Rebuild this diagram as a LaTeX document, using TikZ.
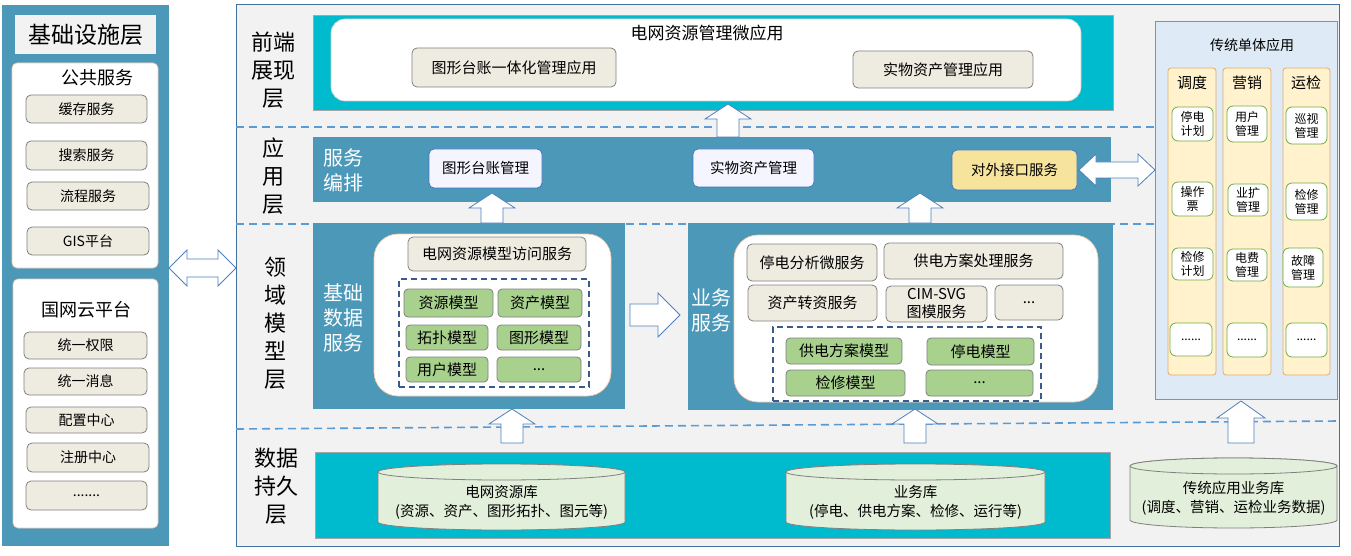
\documentclass[tikz,border=0pt]{standalone}
\usepackage{fontspec}
\setmainfont{Noto Sans CJK SC}
\usetikzlibrary{calc}
\definecolor{steel}{RGB}{75,152,184}
\definecolor{myteal}{RGB}{0,186,206}
\definecolor{cont}{RGB}{242,242,242}
\definecolor{contb}{RGB}{65,113,156}
\definecolor{beige}{RGB}{238,236,225}
\definecolor{gbox}{RGB}{169,209,142}
\definecolor{sepc}{RGB}{91,155,213}
\definecolor{dnavy}{RGB}{59,90,140}
\definecolor{peach}{RGB}{244,200,170}
\definecolor{paleblue}{RGB}{222,235,247}
\definecolor{pgreen}{RGB}{112,173,71}
\definecolor{pyellow}{RGB}{255,242,204}
\definecolor{porange}{RGB}{226,170,110}
\definecolor{ifyellow}{RGB}{247,228,156}
\definecolor{ifblue}{RGB}{68,114,196}
\definecolor{cylfill}{RGB}{226,239,218}
\definecolor{arrb}{RGB}{79,129,189}
\definecolor{gbord}{RGB}{128,128,128}
\newcommand\fs[2]{\fontsize{#1}{#2}\selectfont}
\newcommand\mkbox[7]{\node[#2, minimum width={(#5-#3)*1pt}, minimum height={(#6-#4)*1pt}] (#1) at ({(#3+#5)/2},{(#4+#6)/2}) {#7};}
\newcommand\UpBlk[6]{\draw[blockarr] ({#1-#6},#3) -- ({#1-#6},{#2+#4}) -- ({#1-#5},{#2+#4}) -- (#1,#2) -- ({#1+#5},{#2+#4}) -- ({#1+#6},{#2+#4}) -- ({#1+#6},#3) -- cycle;}
\newcommand\RtBlk[6]{\draw[blockarr] (#2,{#1-#6}) -- ({#3-#4},{#1-#6}) -- ({#3-#4},{#1-#5}) -- (#3,#1) -- ({#3-#4},{#1+#5}) -- ({#3-#4},{#1+#6}) -- (#2,{#1+#6}) -- cycle;}
\newcommand\DblBlk[6]{\draw[blockarr] (#2,#1) -- ({#2+#4},{#1-#5}) -- ({#2+#4},{#1-#6}) -- ({#3-#4},{#1-#6}) -- ({#3-#4},{#1-#5}) -- (#3,#1) -- ({#3-#4},{#1+#5}) -- ({#3-#4},{#1+#6}) -- ({#2+#4},{#1+#6}) -- ({#2+#4},{#1+#5}) -- cycle;}
\newcommand\mkcyl[6]{%
 \pgfmathsetmacro\cylrx{(#4-#2)/2}%
 \pgfmathsetmacro\cylcx{(#2+#4)/2}%
 \draw[cyl] (#2,{#3+8}) -- (#2,{#5-8}) arc[start angle=180,end angle=360,x radius=\cylrx pt,y radius=8pt] -- (#4,{#3+8}) arc[start angle=0,end angle=180,x radius=\cylrx pt,y radius=8pt] -- cycle;
 \draw[cyl] (\cylcx,{#3+8}) ellipse[x radius=\cylrx pt,y radius=8pt];
 \node[base,font=\fs{14.5}{19}] (#1) at (\cylcx,{(#3+#5)/2+5}) {#6};}
\tikzset{
 base/.style={inner sep=0pt, outer sep=0pt, align=center, text=black},
 steelbox/.style={base, fill=steel},
 tealbox/.style={base, fill=myteal, draw=gray!70, line width=0.6pt},
 container/.style={base, fill=cont, draw=contb, line width=1pt},
 wpanel/.style={base, fill=white, draw=peach, line width=0.7pt, rounded corners=#1},
 gbeige/.style={base, fill=beige, draw=gbord, line width=0.8pt, rounded corners=5pt, font=\fs{15}{18}},
 lbeige/.style={gbeige, font=\fs{14}{17}},
 ggreen/.style={base, fill=gbox, draw=gbord, line width=0.8pt, rounded corners=4pt, font=\fs{15}{18}},
 appbox/.style={base, fill=white!96!blue, draw=ifblue, line width=0.8pt, rounded corners=5pt, font=\fs{14.5}{17}},
 ifbox/.style={appbox, fill=ifyellow},
 dashbox/.style={base, draw=dnavy, line width=1.4pt, dash pattern=on 6pt off 4pt},
 sepline/.style={draw=sepc, line width=1.6pt, dash pattern=on 8pt off 5pt},
 blockarr/.style={fill=white, draw=arrb, line width=0.8pt},
 cyl/.style={fill=cylfill, draw=gbord, line width=0.8pt},
 colbox/.style={base, fill=pyellow, draw=porange, line width=0.8pt, rounded corners=3pt},
 titem/.style={base, fill=white, draw=pgreen, line width=0.8pt, rounded corners=6pt, font=\fs{12}{14}},
 layerlbl/.style={base, font=\fs{22}{28}},
 wlbl/.style={base, text=white, font=\fs{20}{25}},
}
\begin{document}
\begin{tikzpicture}[x=1pt,y=-1pt]
\useasboundingbox (0,0) rectangle (1351,556);
\fill[white] (0,0) rectangle (1351,556);
% ---------- left infrastructure panel
\mkbox{leftpanel}{steelbox}{2}{5}{169}{546}{}
\mkbox{infra}{base,fill=cont,font=\fs{23}{27}}{15}{15}{156}{54}{基础设施层}
\mkbox{pubpanel}{wpanel=5pt}{12}{63}{158}{268}{}
\node[base,font=\fs{18}{22}] (pubtitle) at (97,78) {公共服务};
\mkbox{cache}{lbeige}{26}{95}{147}{123}{缓存服务}
\mkbox{search}{lbeige}{26}{141}{147}{170}{搜索服务}
\mkbox{flow}{lbeige}{27}{182}{149}{210}{流程服务}
\mkbox{gis}{lbeige}{27}{227}{149}{255}{GIS平台}
\mkbox{cloudpanel}{wpanel=5pt}{13}{279}{158}{528}{}
\node[base,font=\fs{18}{22}] (cloudtitle) at (86,310) {国网云平台};
\mkbox{perm}{lbeige}{24}{332}{147}{359}{统一权限}
\mkbox{msg}{lbeige}{24}{368}{147}{395}{统一消息}
\mkbox{conf}{lbeige}{26}{407}{147}{433}{配置中心}
\mkbox{reg}{lbeige}{27}{443}{149}{472}{注册中心}
\mkbox{more1}{lbeige}{26}{481}{147}{510}{.......}
% ---------- main container
\mkbox{main}{container}{236}{5}{1339}{546}{}
\draw[sepline] (236,127) -- (1155,127);
\draw[sepline] (236,224) -- (1155,224);
\draw[sepline] (236,429) -- (1339,421);
% layer labels
\node[layerlbl] (lblfront) at (273,70) {前端\\展现\\层};
\node[layerlbl] (lblapp) at (273,176) {应\\用\\层};
\node[layerlbl] (lbldomain) at (275,323) {领\\域\\模\\型\\层};
\node[layerlbl] (lbldata) at (276,486) {数据\\持久\\层};
% ---------- front end
\mkbox{front}{tealbox}{313}{15}{1113}{110}{}
\mkbox{frontin}{base,fill=white,draw=gray!40,line width=0.6pt,rounded corners=14pt}{331}{19}{1081}{101}{}
\node[base,font=\fs{17}{20}] (fronttitle) at (707,33) {电网资源管理微应用};
\mkbox{app1}{gbeige}{412}{48}{616}{87}{图形台账一体化管理应用}
\mkbox{app2}{gbeige}{853}{51}{1033}{88}{实物资产管理应用}
% ---------- application layer
\mkbox{applayer}{steelbox}{313}{137}{1111}{202}{}
\node[wlbl] (orch) at (343,170) {服务\\编排};
\mkbox{svc1}{appbox}{429}{149}{542}{188}{图形台账管理}
\mkbox{svc2}{appbox}{693}{149}{814}{187}{实物资产管理}
\mkbox{svc3}{ifbox}{952}{150}{1077}{190}{对外接口服务}
% ---------- domain: base data service
\mkbox{basesvc}{steelbox}{313}{223}{625}{409}{}
\node[wlbl] (baselbl) at (343,318) {基础\\数据\\服务};
\mkbox{basein}{wpanel=24pt}{374}{234}{611}{396}{}
\mkbox{access}{gbeige}{408}{237}{586}{271}{电网资源模型访问服务}
\mkbox{basedash}{dashbox}{399}{279}{589}{387}{}
\mkbox{m1}{ggreen}{404}{289}{493}{317}{资源模型}
\mkbox{m2}{ggreen}{498}{289}{582}{317}{资产模型}
\mkbox{m3}{ggreen}{406}{325}{488}{350}{拓扑模型}
\mkbox{m4}{ggreen}{497}{325}{581}{350}{图形模型}
\mkbox{m5}{ggreen}{406}{357}{488}{382}{用户模型}
\mkbox{m6}{ggreen}{497}{357}{581}{382}{...}
% ---------- domain: business service
\mkbox{bizsvc}{steelbox}{688}{223}{1113}{410}{}
\mkbox{bizin}{wpanel=24pt}{734}{235}{1098}{402}{}
\node[wlbl] (bizlbl) at (711,310) {业务\\服务};
\mkbox{b1s}{gbeige}{747}{244}{877}{281}{停电分析微服务}
\mkbox{b2s}{gbeige}{884}{243}{1063}{279}{供电方案处理服务}
\mkbox{b3s}{gbeige}{748}{285}{877}{321}{资产转资服务}
\mkbox{b4s}{gbeige}{886}{286}{987}{322}{CIM-SVG\\图模服务}
\mkbox{b5s}{gbeige}{995}{285}{1063}{320}{...}
\mkbox{bizdash}{dashbox}{773}{327}{1041}{401}{}
\mkbox{n1}{ggreen}{786}{338}{902}{364}{供电方案模型}
\mkbox{n2}{ggreen}{927}{338}{1034}{365}{停电模型}
\mkbox{n3}{ggreen}{786}{370}{905}{396}{检修模型}
\mkbox{n4}{ggreen}{926}{370}{1033}{396}{...}
% ---------- data layer
\mkbox{datalayer}{tealbox}{315}{452}{1110}{538}{}
\mkcyl{db1}{378}{464}{625}{530}{电网资源库\\(资源、资产、图形拓扑、图元等)}
\mkcyl{db2}{786}{464}{1045}{530}{业务库\\(停电、供电方案、检修、运行等)}
\mkcyl{db3}{1130}{458}{1337}{528}{传统应用业务库\\(调度、营销、运检业务数据)}
% ---------- traditional monolithic apps
\mkbox{trad}{base,fill=paleblue,draw=pgreen,line width=0.8pt}{1155}{21}{1337}{399}{}
\node[base,font=\fs{14}{17}] (tradtitle) at (1252,45) {传统单体应用};
\mkbox{colA}{colbox}{1168}{68}{1216}{375}{}
\mkbox{colB}{colbox}{1223}{68}{1271}{375}{}
\mkbox{colC}{colbox}{1283}{68}{1330}{375}{}
\node[base,font=\fs{15}{18}] (colAt) at (1192,83) {调度};
\node[base,font=\fs{15}{18}] (colBt) at (1247,83) {营销};
\node[base,font=\fs{15}{18}] (colCt) at (1306,83) {运检};
\mkbox{a1}{titem}{1172}{107}{1213}{141}{停电\\计划}
\mkbox{a2}{titem}{1172}{182}{1213}{216}{操作\\票}
\mkbox{a3}{titem}{1172}{248}{1213}{280}{检修\\计划}
\mkbox{a4}{titem}{1170}{323}{1212}{356}{......}
\mkbox{b1}{titem}{1227}{106}{1267}{142}{用户\\管理}
\mkbox{b2}{titem}{1228}{184}{1268}{216}{业扩\\管理}
\mkbox{b3}{titem}{1227}{249}{1267}{281}{电费\\管理}
\mkbox{b4}{titem}{1227}{323}{1267}{357}{......}
\mkbox{c1}{titem}{1286}{107}{1327}{144}{巡视\\管理}
\mkbox{c2}{titem}{1286}{183}{1327}{220}{检修\\管理}
\mkbox{c3}{titem}{1283}{248}{1323}{287}{故障\\管理}
\mkbox{c4}{titem}{1286}{323}{1327}{357}{......}
% ---------- block arrows
\DblBlk{268}{169}{236}{18}{18}{9}
\DblBlk{170}{1079}{1155}{17}{16}{8}
\UpBlk{728}{104}{137}{15}{23}{11}
\UpBlk{492}{193}{223}{15}{23}{11}
\UpBlk{920}{193}{223}{15}{23}{11}
\UpBlk{512}{409}{443}{15}{23}{11}
\UpBlk{915}{409}{443}{15}{23}{11}
\UpBlk{1241}{401}{443}{17}{24}{13}
\RtBlk{315}{630}{680}{22}{22}{11}
\end{tikzpicture}
\end{document}
